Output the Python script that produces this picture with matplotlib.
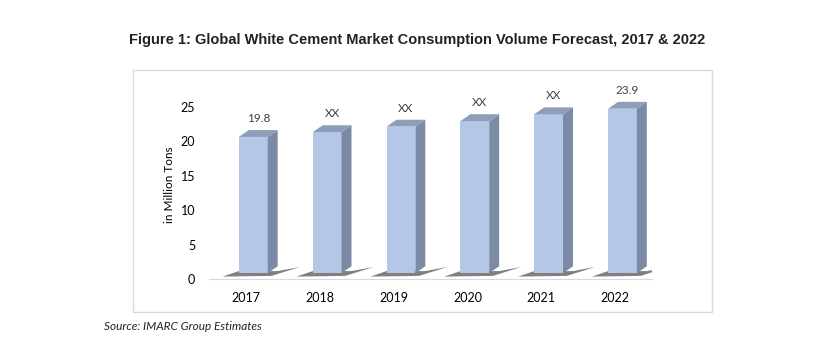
import matplotlib.pyplot as plt
from matplotlib.patches import Polygon, Rectangle

years = ["2017", "2018", "2019", "2020", "2021", "2022"]
values = [19.8, 20.5, 21.3, 22.1, 23.1, 23.9]
labels = ["19.8", "XX", "XX", "XX", "XX", "23.9"]

front = "#b4c7e7"
side = "#7b8ba5"
top = "#8e9db8"

fig = plt.figure(figsize=(8.27, 3.51), dpi=100)
fig.patches.append(Rectangle((133 / 827, 1 - 312 / 351), 579 / 827, 242 / 351,
                             transform=fig.transFigure, fill=False,
                             edgecolor="#d9d9d9", linewidth=1))

ax = fig.add_axes([209 / 827, 72 / 351, 443 / 827, 0.539])
ax.set_xlim(-0.5, 5.5)
ax.set_ylim(0, 27.5)

w = 0.39      # front face width
dx = 0.135    # depth in x
dy = 1.0      # depth in y
lift = 0.85   # front face sits a bit above the floor
shift = 0.1

for i, v in enumerate(values):
    x0 = i + shift - w / 2
    x1 = x0 + w
    yb = lift
    yt = lift + v
    # thin floor shadow
    ax.add_patch(Polygon([(x0 - 0.22, 0.35), (x1 + 0.05, 0.45), (x1 + dx + 0.3, yb + dy * 0.9),
                          (x1 + dx, yb + dy * 0.3), (x0, yb + 0.3)], closed=True,
                         facecolor="#4a4a4a", edgecolor="none", alpha=0.7, zorder=1))
    ax.add_patch(Rectangle((x0, yb), w, v, facecolor=front, edgecolor="none", zorder=3))
    ax.add_patch(Polygon([(x1, yb), (x1 + dx, yb + dy), (x1 + dx, yt + dy), (x1, yt)],
                         closed=True, facecolor=side, edgecolor="none", zorder=3))
    ax.add_patch(Polygon([(x0, yt), (x1, yt), (x1 + dx, yt + dy), (x0 + dx, yt + dy)],
                         closed=True, facecolor=top, edgecolor="none", zorder=3))
    ax.text(i + shift + dx / 2, yt + dy + 0.9, labels[i], ha="center", va="bottom",
            fontsize=8.5, family="Lato", color="#404040", zorder=4)

ax.set_xticks(range(len(years)))
ax.set_xticklabels(years, family="Lato", fontsize=9)
ax.set_yticks([0, 5, 10, 15, 20, 25])
ax.tick_params(axis="y", labelsize=9, length=0, pad=10)
ax.tick_params(axis="x", length=0, pad=9)
for lab in ax.get_yticklabels():
    lab.set_family("Lato")
ax.set_ylabel("in Million Tons", family="Lato", fontsize=8.5, labelpad=4)
for s in ["top", "right", "left"]:
    ax.spines[s].set_visible(False)
ax.spines["bottom"].set_color("#d9d9d9")
ax.patch.set_alpha(0)

fig.text(417 / 827, 1 - 40 / 351, "Figure 1: Global White Cement Market Consumption Volume Forecast, 2017 & 2022",
         ha="center", va="center", fontsize=10.5, fontweight="bold", family="Liberation Sans", color="#222222")
fig.text(104 / 827, 1 - 326 / 351, "Source: IMARC Group Estimates", ha="left", va="center",
         fontsize=8.5, style="italic", family="Lato", color="#222222")

fig.savefig("out.png", dpi=100)
